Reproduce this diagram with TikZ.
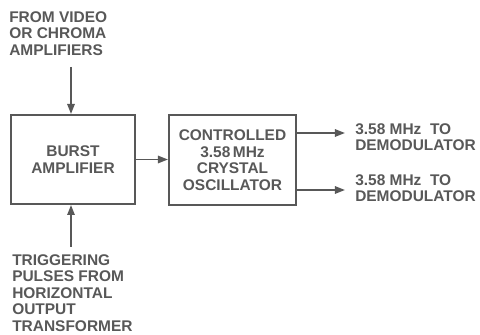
\documentclass[tikz,border=0pt]{standalone}
\usepackage{fontspec}
\setmainfont{Liberation Sans}
\usetikzlibrary{arrows.meta}
\definecolor{ink}{RGB}{88,88,88}
\begin{document}
\begin{tikzpicture}[x=0.75pt, y=-0.75pt,
            every node/.style = {text = ink, font = \fontsize{11.6}{12.4}\selectfont\bfseries},
            block/.style = {draw = ink, line width = 1.5pt, align = center, inner sep = 0pt},
            label/.style = {align = left, inner sep = 0pt, anchor = north west},
            arr/.style = {draw = ink, line width = 1.4pt, -{Triangle[length = 7.5pt, width = 5.5pt]}}
        ]
            \useasboundingbox (0,0) rectangle (480,335);
            % blocks
            \node[block, minimum width = 93pt, minimum height = 66.75pt] (burst) at (73,159.5) {BURST\\AMPLIFIER};
            \node[block, minimum width = 95.25pt, minimum height = 67.5pt] (osc) at (232.5,160) {CONTROLLED\\3.58\,MHz\\CRYSTAL\\OSCILLATOR};
            % labels
            \node[label] (video) at (9,11) {FROM VIDEO\\OR CHROMA\\AMPLIFIERS};
            \node[label] (trigger) at (12,254) {TRIGGERING\\PULSES FROM\\HORIZONTAL\\OUTPUT\\TRANSFORMER};
            \node[label] (demodA) at (355,123) {3.58 MHz\ \ TO\\DEMODULATOR};
            \node[label] (demodB) at (355,174) {3.58 MHz\ \ TO\\DEMODULATOR};
            % connectors
            \coordinate (in) at (71,67);
            \coordinate (trig) at (71,247);
            \coordinate (outA) at (345,133);
            \coordinate (outB) at (345,190);
            \draw[arr] (in) -- (in |- burst.north);
            \draw[arr] (trig) -- (trig |- burst.south);
            \draw[arr] (burst) -- (burst -| osc.west);
            \draw[arr] (outA -| osc.east) -- (outA);
            \draw[arr] (outB -| osc.east) -- (outB);
        \end{tikzpicture}
\end{document}
